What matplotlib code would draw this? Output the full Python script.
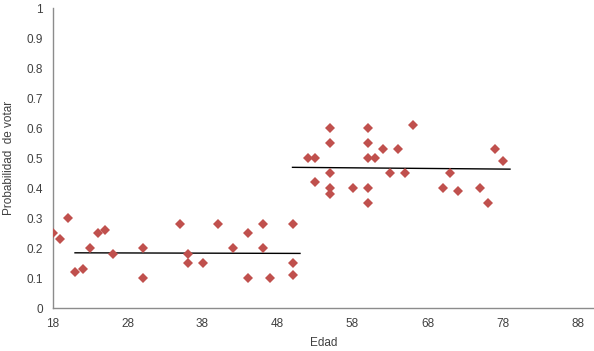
import numpy as np
import matplotlib.pyplot as plt

# age / probability of voting
ages_young = [18, 19, 20, 21, 22, 23, 24, 25, 26, 30, 30, 35, 36, 36, 38,
              40, 42, 44, 44, 46, 46, 47, 50, 50, 50]
prob_young = [0.25, 0.23, 0.30, 0.12, 0.13, 0.20, 0.25, 0.26, 0.18, 0.20, 0.10,
              0.28, 0.18, 0.15, 0.15, 0.28, 0.20, 0.25, 0.10, 0.28, 0.20, 0.10,
              0.28, 0.15, 0.11]

ages_old = [52, 53, 53, 55, 55, 55, 55, 55, 58, 60, 60, 60, 60, 60, 61, 62,
            63, 64, 65, 66, 70, 71, 72, 75, 76, 77, 78]
prob_old = [0.50, 0.50, 0.42, 0.60, 0.55, 0.45, 0.40, 0.38, 0.40, 0.60, 0.55,
            0.50, 0.40, 0.35, 0.50, 0.53, 0.45, 0.53, 0.45, 0.61, 0.40, 0.45,
            0.39, 0.40, 0.35, 0.53, 0.49]

# trend lines (endpoints)
trend_young_x = [21, 51]
trend_young_y = [0.184, 0.182]
trend_old_x = [50, 79]
trend_old_y = [0.469, 0.463]

x_ticks = [18, 28, 38, 48, 58, 68, 78, 88]
y_ticks = [0, 0.1, 0.2, 0.3, 0.4, 0.5, 0.6, 0.7, 0.8, 0.9, 1]
y_labels = ['0', '0.1', '0.2', '0.3', '0.4', '0.5', '0.6', '0.7', '0.8', '0.9', '1']

plt.rcParams['font.family'] = ['Liberation Sans', 'DejaVu Sans']

fig = plt.figure(figsize=(5.94, 3.51), dpi=100)
ax = fig.add_axes([0.0884, 0.1225, 0.9116, 0.8545])

red = '#C0504D'
ax.plot(ages_young, prob_young, 'D', color=red, markersize=5.2, markeredgewidth=0, zorder=3)
ax.plot(ages_old, prob_old, 'D', color=red, markersize=5.2, markeredgewidth=0, zorder=3)
ax.plot(trend_young_x, trend_young_y, color='black', lw=1.0, zorder=2)
ax.plot(trend_old_x, trend_old_y, color='black', lw=1.0, zorder=2)

ax.set_xlim(18, 90.2)
ax.set_ylim(0, 1)
ax.set_xticks(x_ticks)
ax.set_yticks(y_ticks)
ax.set_yticklabels(y_labels)

text_col = '#404040'
ax.tick_params(length=0, labelsize=8.5, colors=text_col, pad=7)
for side in ['top', 'right']:
    ax.spines[side].set_visible(False)
for side in ['left', 'bottom']:
    ax.spines[side].set_color('#8c8c8c')
    ax.spines[side].set_linewidth(1.0)

ax.set_xlabel('Edad', fontsize=8.5, color=text_col, labelpad=5)
ax.set_ylabel('Probabilidad  de votar', fontsize=8.5, color=text_col, labelpad=8)

fig.savefig('out.png', dpi=100)
